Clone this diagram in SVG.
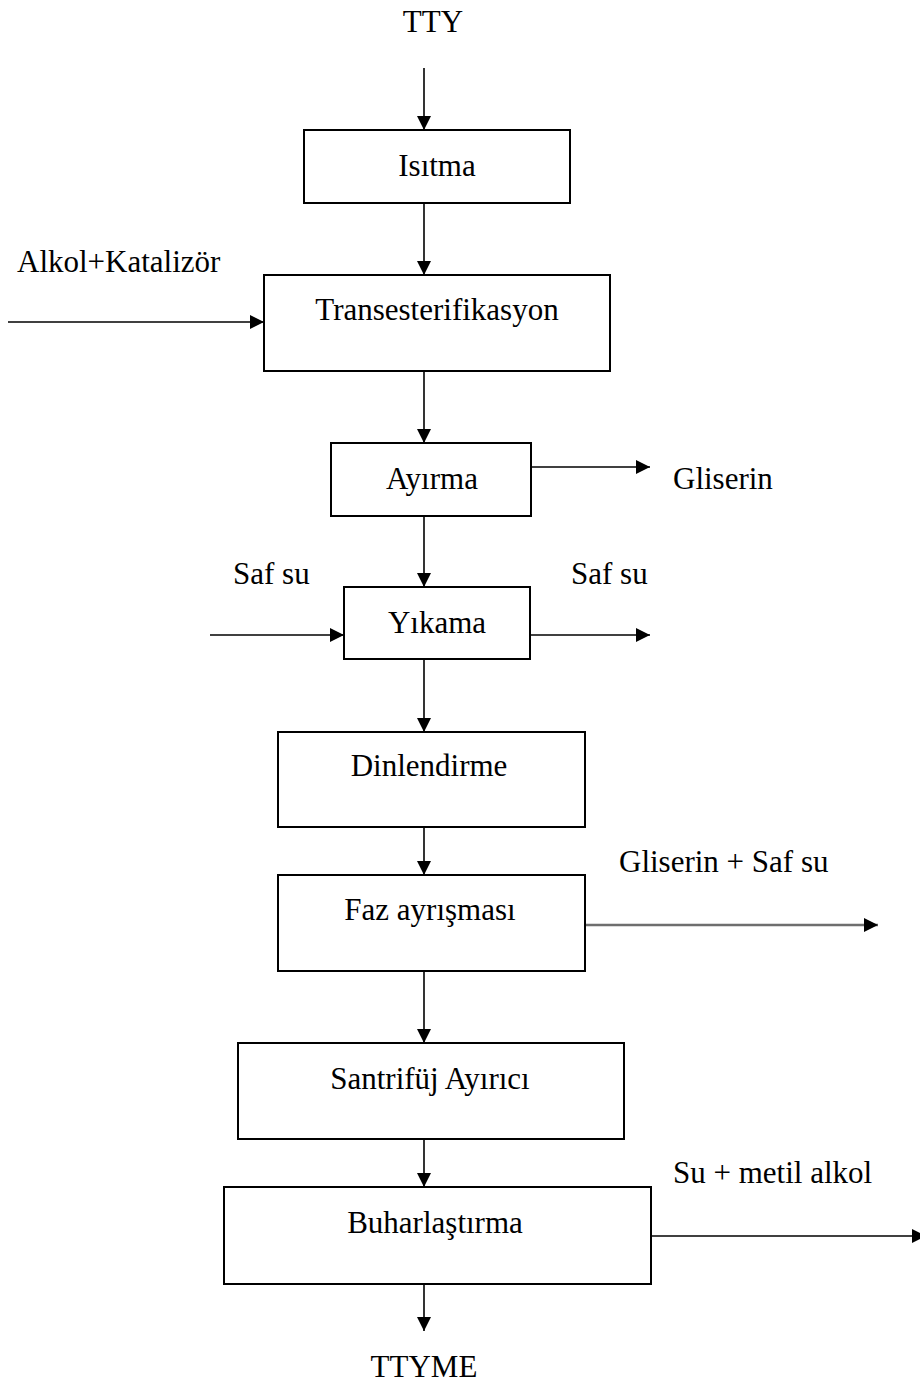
<svg xmlns="http://www.w3.org/2000/svg" width="920" height="1383" viewBox="0 0 920 1383">
<style>
.box{fill:#fff;stroke:#000;stroke-width:2}
.t{font-family:"Liberation Serif","Times New Roman",serif;font-size:31px;fill:#000}
.m{text-anchor:middle}
.c{stroke:#000;stroke-width:1.6;fill:none;marker-end:url(#ah)}
.g{stroke:#6e6e6e;stroke-width:2.6;fill:none;marker-end:url(#ah)}
</style>
<defs>
<marker id="ah" markerUnits="userSpaceOnUse" markerWidth="16" markerHeight="14" refX="14" refY="7" orient="auto">
<path d="M0,0 L14,7 L0,14 z" fill="#000"/>
</marker>
</defs>
<rect width="920" height="1383" fill="#fff"/>
<g id="connectors">
<line class="c" x1="424" y1="68" x2="424" y2="130"/>
<line class="c" x1="424" y1="203" x2="424" y2="275"/>
<line class="c" x1="424" y1="371" x2="424" y2="443"/>
<line class="c" x1="424" y1="516" x2="424" y2="587"/>
<line class="c" x1="424" y1="659" x2="424" y2="732"/>
<line class="c" x1="424" y1="827" x2="424" y2="875"/>
<line class="c" x1="424" y1="971" x2="424" y2="1043"/>
<line class="c" x1="424" y1="1139" x2="424" y2="1187"/>
<line class="c" x1="424" y1="1284" x2="424" y2="1331"/>
<line class="c" x1="8" y1="322" x2="264" y2="322"/>
<line class="c" x1="531" y1="467" x2="650" y2="467"/>
<line class="c" x1="210" y1="635" x2="344" y2="635"/>
<line class="c" x1="530" y1="635" x2="650" y2="635"/>
<line class="g" x1="585" y1="925" x2="878" y2="925"/>
<line class="c" x1="651" y1="1236" x2="926" y2="1236"/>
</g>
<g id="labels">
<text class="t m" x="433" y="32">TTY</text>
<text class="t" x="17" y="272">Alkol+Katalizör</text>
<text class="t" x="673" y="489">Gliserin</text>
<text class="t" x="233" y="584">Saf su</text>
<text class="t" x="571" y="584">Saf su</text>
<text class="t" x="619" y="872">Gliserin + Saf su</text>
<text class="t" x="673" y="1183">Su + metil alkol</text>
<text class="t m" x="424" y="1377">TTYME</text>
</g>
<g id="isitma"><rect class="box" x="304" y="130" width="266" height="73"/><text class="t m" x="437" y="176">Isıtma</text></g>
<g id="transesterifikasyon"><rect class="box" x="264" y="275" width="346" height="96"/><text class="t m" x="437" y="320">Transesterifikasyon</text></g>
<g id="ayirma"><rect class="box" x="331" y="443" width="200" height="73"/><text class="t m" x="432" y="489">Ayırma</text></g>
<g id="yikama"><rect class="box" x="344" y="587" width="186" height="72"/><text class="t m" x="437" y="633">Yıkama</text></g>
<g id="dinlendirme"><rect class="box" x="278" y="732" width="307" height="95"/><text class="t m" x="429" y="776">Dinlendirme</text></g>
<g id="faz-ayrismasi"><rect class="box" x="278" y="875" width="307" height="96"/><text class="t m" x="430" y="920">Faz ayrışması</text></g>
<g id="santrifuj-ayirici"><rect class="box" x="238" y="1043" width="386" height="96"/><text class="t m" x="430" y="1089">Santrifüj Ayırıcı</text></g>
<g id="buharlastirma"><rect class="box" x="224" y="1187" width="427" height="97"/><text class="t m" x="435" y="1233">Buharlaştırma</text></g>
</svg>
